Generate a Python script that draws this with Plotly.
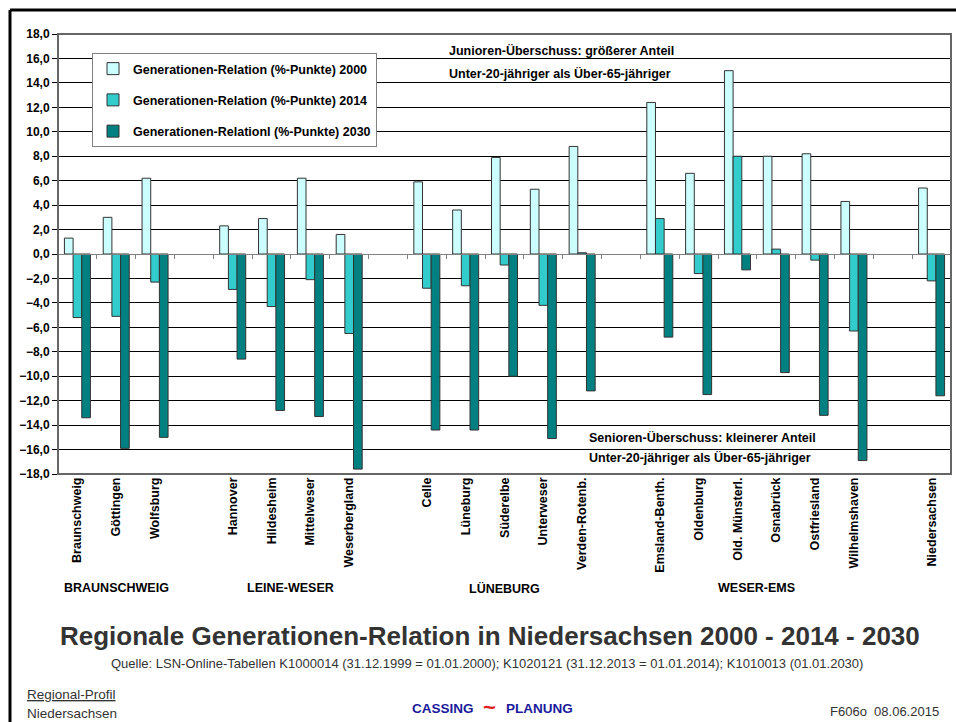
"""Regionale Generationen-Relation in Niedersachsen 2000 - 2014 - 2030."""

import plotly.graph_objects as go

# categories (blank entries are the gaps between the Regierungsbezirke)
REGIONS = [
    "Braunschweig", "Göttingen", "Wolfsburg", " ",
    "Hannover", "Hildesheim", "Mittelweser", "Weserbergland", "  ",
    "Celle", "Lüneburg", "Süderelbe", "Unterweser", "Verden-Rotenb.", "   ",
    "Emsland-Benth.", "Oldenburg", "Old. Münsterl.", "Osnabrück", "Ostfriesland",
    "Wilhelmshaven", "    ",
    "Niedersachsen",
]
REL_2000 = [1.3, 3.0, 6.2, None, 2.3, 2.9, 6.2, 1.6, None,
            5.9, 3.6, 7.9, 5.3, 8.8, None,
            12.4, 6.6, 15.0, 8.0, 8.2, 4.3, None, 5.4]
REL_2014 = [-5.2, -5.1, -2.3, None, -2.9, -4.3, -2.1, -6.5, None,
            -2.8, -2.6, -0.9, -4.2, 0.1, None,
            2.9, -1.6, 8.0, 0.4, -0.5, -6.3, None, -2.2]
REL_2030 = [-13.4, -15.9, -15.0, None, -8.6, -12.8, -13.3, -17.6, None,
            -14.4, -14.4, -10.0, -15.1, -11.2, None,
            -6.8, -11.5, -1.3, -9.7, -13.2, -16.9, None, -11.6]

SERIES_NAMES = [
    "Generationen-Relation (%-Punkte) 2000",
    "Generationen-Relation (%-Punkte) 2014",
    "Generationen-Relationl (%-Punkte) 2030",
]
SERIES_COLORS = ["#ccffff", "#33cccc", "#008080"]

GROUPS = {
    "BRAUNSCHWEIG": ["Braunschweig", "Göttingen", "Wolfsburg"],
    "LEINE-WESER": ["Hannover", "Hildesheim", "Mittelweser", "Weserbergland"],
    "LÜNEBURG": ["Celle", "Lüneburg", "Süderelbe", "Unterweser", "Verden-Rotenb."],
    "WESER-EMS": ["Emsland-Benth.", "Oldenburg", "Old. Münsterl.", "Osnabrück",
                  "Ostfriesland", "Wilhelmshaven"],
}

W, H = 956, 722
PLOT_L, PLOT_R, PLOT_T, PLOT_B = 58, 951, 34, 474

SANS = "Liberation Sans, Arial, sans-serif"


def paper(x, y):
    """Pixel position in the page -> paper coordinates of the plot area."""
    return ((x - PLOT_L) / (PLOT_R - PLOT_L), (PLOT_B - y) / (PLOT_B - PLOT_T))


def text(fig, x, y, s, size=12, color="#000000", anchor="left", bold=False):
    px, py = paper(x, y)
    fig.add_annotation(
        text=f"<b>{s}</b>" if bold else s,
        x=px, y=py, xref="paper", yref="paper",
        xanchor=anchor, yanchor="middle", showarrow=False,
        font=dict(size=size, color=color, family=SANS),
    )


fig = go.Figure()
for i, (name, values, color) in enumerate(zip(SERIES_NAMES, [REL_2000, REL_2014, REL_2030], SERIES_COLORS)):
    fig.add_trace(
        go.Bar(
            x=REGIONS,
            y=values,
            name=name,
            legendgroup=f"g{i}",
            marker=dict(color=color, line=dict(color="#333333", width=1)),
        )
    )

fig.update_layout(
    width=W,
    height=H,
    barmode="group",
    bargap=0.33,
    bargroupgap=0,
    separators=",.",
    plot_bgcolor="#ffffff",
    paper_bgcolor="#ffffff",
    margin=dict(l=PLOT_L, r=W - PLOT_R, t=PLOT_T, b=H - PLOT_B),
    font=dict(family=SANS, size=12, color="#000000"),
    showlegend=True,
    legend=dict(
        x=paper(92, 53)[0], y=paper(92, 53)[1], xanchor="left", yanchor="top",
        bgcolor="#ffffff", bordercolor="#808080", borderwidth=1,
        font=dict(family=SANS, size=12.5, weight="bold"),
        tracegroupgap=12,
        itemwidth=30,
    ),
    xaxis=dict(
        type="category",
        categoryarray=REGIONS,
        tickangle=-90,
        tickfont=dict(family=SANS, size=12.5, weight="bold"),
        ticks="",
        showgrid=False,
        showline=False,
        zeroline=False,
    ),
    xaxis2=dict(
        type="category",
        categoryarray=REGIONS,
        overlaying="x",
        matches="x",
        anchor="free",
        position=0.5,
        showline=True,
        linecolor="#808080",
        linewidth=1,
        ticks="outside",
        tickson="boundaries",
        ticklen=4,
        tickcolor="#808080",
        showticklabels=False,
        showgrid=False,
    ),
    yaxis=dict(
        range=[-18, 18],
        dtick=2,
        tickformat=".1f",
        tickfont=dict(family=SANS, size=12, weight="bold"),
        ticks="outside",
        ticklen=5,
        tickcolor="#000000",
        showgrid=True,
        gridcolor="#000000",
        gridwidth=1,
        zeroline=False,
        showline=True,
        linecolor="#000000",
        linewidth=1,
    ),
)

# empty trace so the zero-line axis with its boundary ticks gets drawn
fig.add_trace(go.Bar(x=REGIONS, y=[None] * len(REGIONS), xaxis="x2", showlegend=False, hoverinfo="skip"))

# plot frame
fig.add_shape(type="rect", xref="paper", yref="paper", x0=0, y0=0, x1=1, y1=1,
              line=dict(color="#666666", width=2), layer="above")
# outer page frame (left and top)
fig.add_shape(type="line", xref="paper", yref="paper",
              x0=paper(10, 10)[0], y0=paper(10, 10)[1], x1=paper(956, 10)[0], y1=paper(956, 10)[1],
              line=dict(color="#000000", width=3))
fig.add_shape(type="line", xref="paper", yref="paper",
              x0=paper(10, 10)[0], y0=paper(10, 10)[1], x1=paper(10, 722)[0], y1=paper(10, 722)[1],
              line=dict(color="#000000", width=3))

# group labels under the category names
for label, members in GROUPS.items():
    idx = [REGIONS.index(m) for m in members]
    fig.add_annotation(
        text=f"<b>{label}</b>",
        x=sum(idx) / len(idx), y=paper(0, 588)[1], xref="x", yref="paper",
        xanchor="center", yanchor="middle", showarrow=False,
        font=dict(size=12.5, family=SANS, color="#000000"),
    )

text(fig, 447, 50, "Junioren-Überschuss: größerer Anteil", size=12.5, bold=True)
text(fig, 447, 73, "Unter-20-jähriger als Über-65-jähriger", size=12.5, bold=True)
text(fig, 587, 437, "Senioren-Überschuss: kleinerer Anteil", size=12.5, bold=True)
text(fig, 587, 457, "Unter-20-jähriger als Über-65-jähriger", size=12.5, bold=True)

text(fig, 490, 636, "Regionale Generationen-Relation in Niedersachsen 2000 - 2014 - 2030",
     size=26, color="#333333", anchor="center", bold=True)
text(fig, 487, 663, "Quelle: LSN-Online-Tabellen K1000014 (31.12.1999 = 01.01.2000); "
     "K1020121 (31.12.2013 = 01.01.2014); K1010013 (01.01.2030)",
     size=13, color="#333333", anchor="center")
text(fig, 25, 694, "<u>Regional-Profil</u>", size=13.5, color="#333333")
text(fig, 25, 713, "Niedersachsen", size=13.5, color="#333333")

# logo: CASSING ~ PLANUNG
text(fig, 476, 708, "CASSING", size=13.5, color="#1a1a9c", anchor="right", bold=True)
text(fig, 489, 707, "~", size=22, color="#e02020", anchor="center", bold=True)
text(fig, 504, 708, "PLANUNG", size=13.5, color="#1a1a9c", anchor="left", bold=True)

text(fig, 941, 711, "F606o  08.06.2015", size=13, color="#333333", anchor="right")

fig.write_html("out.html", config={"displayModeBar": False},
               post_script="document.body.style.margin='0';")
